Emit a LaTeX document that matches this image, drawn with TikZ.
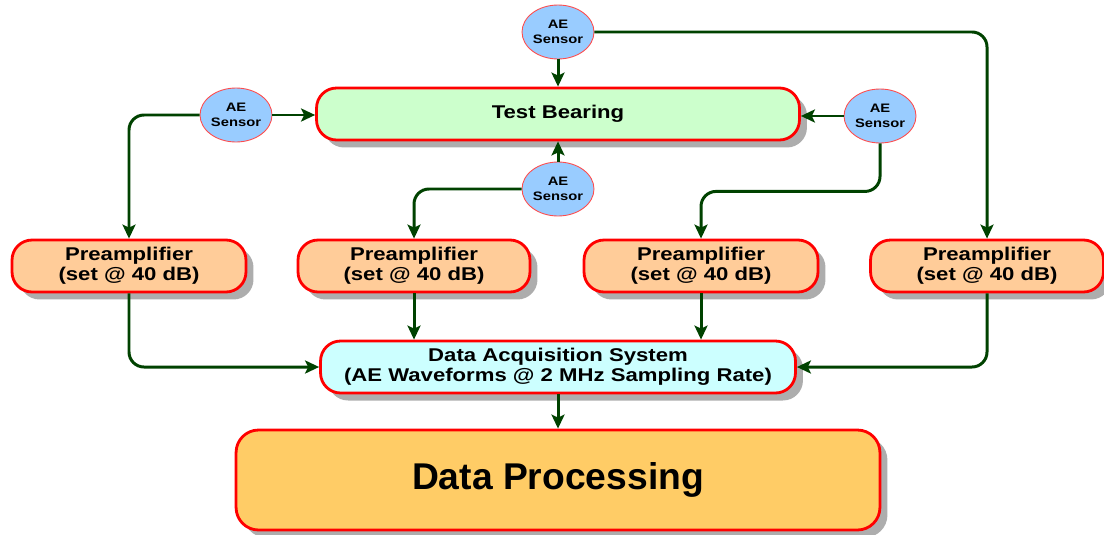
\documentclass[tikz,border=0pt]{standalone}
\usepackage{fontspec}
\setmainfont{Liberation Sans}
\newfontfamily\widesans[FakeStretch=1.2]{Liberation Sans}
\usetikzlibrary{shapes.geometric,arrows.meta,shadows}
\definecolor{linkgreen}{RGB}{0,66,0}
\definecolor{bearingfill}{RGB}{204,255,204}
\definecolor{preampfill}{RGB}{255,204,153}
\definecolor{daqfill}{RGB}{204,255,255}
\definecolor{procfill}{RGB}{255,204,102}
\definecolor{sensorfill}{RGB}{153,204,255}
\definecolor{boxred}{RGB}{255,0,0}

\begin{document}
\begin{tikzpicture}[x=0.02cm,y=-0.02cm,
  box/.style={draw=boxred,line width=1.6pt,rounded corners=0.4cm,align=center,
    font=\widesans\bfseries\fontsize{10.5}{11.5}\selectfont,inner sep=0pt,
    drop shadow={shadow xshift=0.15cm,shadow yshift=-0.15cm,fill=black!40,opacity=0.8}},
  sensor/.style={ellipse,draw=boxred!70,line width=0.5pt,fill=sensorfill,
    minimum width=1.44cm,minimum height=1.08cm,inner sep=0pt,align=center,
    font=\widesans\bfseries\fontsize{7}{8.5}\selectfont},
  link/.style={draw=linkgreen,line width=1.7pt,rounded corners=0.3cm,
    -{Stealth[length=0.28cm,width=0.26cm,inset=0.06cm]}}]
\useasboundingbox (0,0) rectangle (1104,534);
\node[box,fill=bearingfill,minimum width=9.66cm,minimum height=1.04cm] (bearing) at (558,114) {Test Bearing};
\node[sensor] (stop) at (558,32) {AE\\Sensor};
\node[sensor] (sleft) at (236,115) {AE\\Sensor};
\node[sensor] (sright) at (880,116) {AE\\Sensor};
\node[sensor] (smid) at (558,189) {AE\\Sensor};
\node[box,fill=preampfill,minimum width=4.68cm,minimum height=1.04cm] (pre1) at (129,266) {Preamplifier\\(set @ 40 dB)};
\node[box,fill=preampfill,minimum width=4.64cm,minimum height=1.04cm] (pre2) at (414,266) {Preamplifier\\(set @ 40 dB)};
\node[box,fill=preampfill,minimum width=4.68cm,minimum height=1.04cm] (pre3) at (701,266) {Preamplifier\\(set @ 40 dB)};
\node[box,fill=preampfill,minimum width=4.66cm,minimum height=1.04cm] (pre4) at (987,266) {Preamplifier\\(set @ 40 dB)};
\node[box,fill=daqfill,minimum width=9.5cm,minimum height=1.04cm] (daq) at (558,367) {Data Acquisition System\\(AE Waveforms @ 2 MHz Sampling Rate)};
\node[box,fill=procfill,minimum width=12.88cm,minimum height=2cm,rounded corners=0.45cm,
  font=\bfseries\fontsize{21.2}{25}\selectfont] (proc) at (558,480) {Data Processing};

\draw[link] (stop.south) -- (bearing.north);
\draw[link] (sleft.east) -- (bearing.west |- sleft.east);
\draw[link] (sright.west) -- (bearing.east |- sright.west);
\draw[link] (smid.north) -- (bearing.south);
\draw[link] (sleft.west) -| (pre1.north);
\draw[link] (smid.west) -| (pre2.north);
\draw[link] (sright.south) -- ++(0,48) -| (pre3.north);
\draw[link] (stop.east) -| (pre4.north);
\draw[link] (pre1.south) |- (daq.west);
\draw[link] (pre2.south) -- (pre2.south |- daq.north);
\draw[link] (pre3.south) -- (pre3.south |- daq.north);
\draw[link] (pre4.south) |- (daq.east);
\draw[link] (daq.south) -- (proc.north);
\end{tikzpicture}
\end{document}
